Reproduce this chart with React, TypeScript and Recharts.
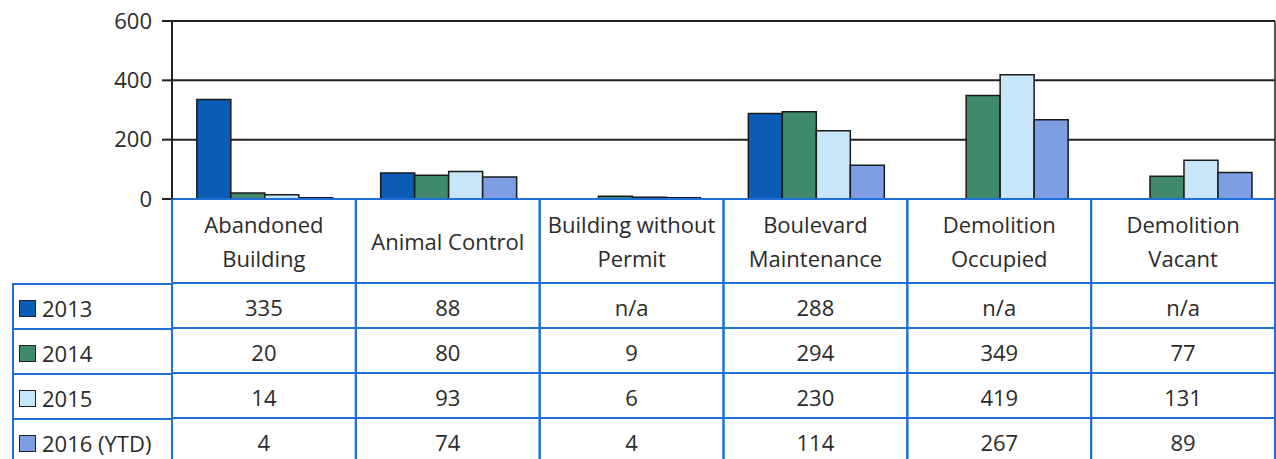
import { BarChart, Bar, XAxis, YAxis, CartesianGrid, Legend } from "recharts"

const categories = [
  "Abandoned Building",
  "Animal Control",
  "Building without Permit",
  "Boulevard Maintenance",
  "Demolition Occupied",
  "Demolition Vacant",
]

// how each header is wrapped in the table
const headerLines: Record<string, string[]> = {
  "Abandoned Building": ["Abandoned", "Building"],
  "Animal Control": ["Animal Control"],
  "Building without Permit": ["Building without", "Permit"],
  "Boulevard Maintenance": ["Boulevard", "Maintenance"],
  "Demolition Occupied": ["Demolition", "Occupied"],
  "Demolition Vacant": ["Demolition", "Vacant"],
}

const years = ["2013", "2014", "2015", "2016 (YTD)"]

const values2013 = [335, 88, null, 288, null, null]
const values2014 = [20, 80, 9, 294, 349, 77]
const values2015 = [14, 93, 6, 230, 419, 131]
const values2016 = [4, 74, 4, 114, 267, 89]

const yTicks = [0, 200, 400, 600]

const seriesValues = [values2013, values2014, values2015, values2016]
const colors = ["#0b5cb5", "#3f8a6b", "#c7e6fa", "#7d9ee3"]

const data = categories.map((name, i) => {
  const row: Record<string, string | number | null> = { name }
  years.forEach((y, s) => {
    row[y] = seriesValues[s][i]
  })
  return row
})

const W = 1276
const H = 459
const LEFT = 172
const TOP = 21
const PLOT_BOTTOM = 199
const BAND = (W - 1 - LEFT) / categories.length
const ROW_TOP = 283
const ROW_H = 45
const BLUE = "#1f6fd6"
const TEXT = "#2b2b2b"
const FONT = "'Open Sans', sans-serif"
const FS = 22

function TableColumn(props: any) {
  const { x, payload } = props
  const name = payload.value as string
  const idx = categories.indexOf(name)
  const lines = headerLines[name] ?? [name]
  const left = x - BAND / 2
  const right = x + BAND / 2
  const headMid = (PLOT_BOTTOM + ROW_TOP) / 2
  return (
    <g fontFamily={FONT} fontSize={FS} fill={TEXT}>
      <line x1={left} x2={left} y1={PLOT_BOTTOM} y2={H} stroke={BLUE} strokeWidth={2} />
      <line x1={right} x2={right} y1={PLOT_BOTTOM} y2={H} stroke={BLUE} strokeWidth={2} />
      {lines.map((l, i) => (
        <text
          key={l}
          x={x}
          y={headMid + (i - (lines.length - 1) / 2) * 34}
          textAnchor="middle"
          dominantBaseline="central"
        >
          {l}
        </text>
      ))}
      {years.map((y, s) => {
        const v = seriesValues[s][idx]
        const top = ROW_TOP + s * ROW_H
        return (
          <g key={y}>
            <line x1={left} x2={right} y1={top} y2={top} stroke={BLUE} strokeWidth={2} />
            <text x={x} y={top + ROW_H / 2 + 1} textAnchor="middle" dominantBaseline="central">
              {v == null ? "n/a" : v}
            </text>
          </g>
        )
      })}
    </g>
  )
}

function LegendColumn(props: any) {
  const { payload } = props
  return (
    <div style={{ fontFamily: FONT, fontSize: FS, color: TEXT, borderLeft: `2px solid ${BLUE}` }}>
      {payload.map((p: any) => (
        <div
          key={p.value}
          style={{
            height: ROW_H,
            borderTop: `2px solid ${BLUE}`,
            boxSizing: "border-box",
            display: "flex",
            alignItems: "center",
            paddingLeft: 5,
            paddingTop: 3,
          }}
        >
          <span
            style={{
              display: "inline-block",
              width: 15,
              height: 15,
              background: p.color,
              border: "1.5px solid #222",
              marginRight: 6,
            }}
          />
          {p.value}
        </div>
      ))}
    </div>
  )
}

export default function App() {
  return (
    <div style={{ position: "absolute", left: 0, top: 0, width: W, height: H, background: "#fff" }}>
      <BarChart
        width={W}
        height={H}
        data={data}
        margin={{ top: TOP, right: 0, bottom: 0, left: 0 }}
        barCategoryGap="13.5%"
        barGap={0}
      >
        <CartesianGrid vertical={false} stroke="#222" strokeWidth={2} />
        <XAxis
          dataKey="name"
          height={H - PLOT_BOTTOM}
          interval={0}
          tickLine={false}
          axisLine={{ stroke: BLUE, strokeWidth: 2 }}
          tick={<TableColumn />}
        />
        <YAxis
          width={LEFT}
          domain={[0, 600]}
          ticks={yTicks}
          tickSize={10}
          tickMargin={10}
          axisLine={{ stroke: "#222", strokeWidth: 2 }}
          tickLine={{ stroke: "#222", strokeWidth: 2 }}
          tick={{ fill: TEXT, fontSize: FS, fontFamily: FONT }}
        />
        <YAxis
          yAxisId="r"
          orientation="right"
          width={1}
          domain={[0, 600]}
          tick={false}
          tickLine={false}
          axisLine={{ stroke: "#222", strokeWidth: 1.5 }}
        />
        <Legend
          layout="vertical"
          align="center"
          verticalAlign="middle"
          content={<LegendColumn />}
          wrapperStyle={{ left: 12, top: ROW_TOP, width: LEFT - 12, height: H - ROW_TOP, bottom: "auto" }}
        />
        {years.map((y, s) => (
          <Bar
            key={y}
            dataKey={y}
            fill={colors[s]}
            stroke="#1a1a1a"
            strokeWidth={1.5}
            isAnimationActive={false}
          />
        ))}
      </BarChart>
    </div>
  )
}
